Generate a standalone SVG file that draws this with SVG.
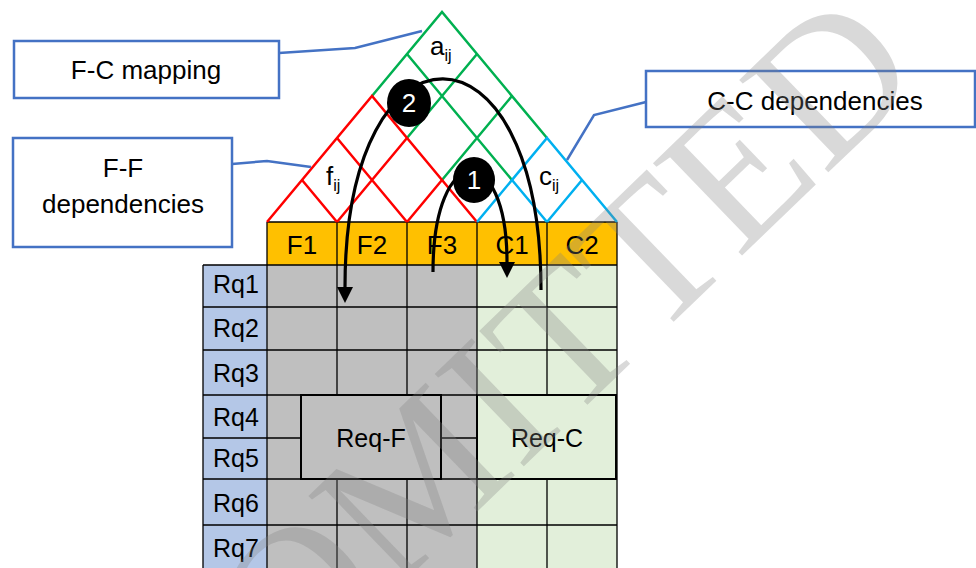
<svg xmlns="http://www.w3.org/2000/svg" width="976" height="568" viewBox="0 0 976 568">
<defs>
<style>
.t{font-family:"Liberation Sans",Arial,sans-serif;fill:#000}
.lbl{fill:#fff;stroke:#4472C4;stroke-width:2.5}
.call{fill:none;stroke:#4472C4;stroke-width:2.5}
.r{fill:none;stroke:#FF0000;stroke-width:2.5}
.g{fill:none;stroke:#00B050;stroke-width:2.5}
.b{fill:none;stroke:#00B0F0;stroke-width:2.5}
.grid{stroke:#000;stroke-width:1.3;fill:none}
.arr{fill:none;stroke:#000;stroke-width:3.2}
.num{font-family:"Liberation Sans",Arial,sans-serif;font-size:26px;fill:#fff;text-anchor:middle}
</style>
<marker id="ah" markerUnits="userSpaceOnUse" markerWidth="18" markerHeight="18" refX="0" refY="8" orient="auto" viewBox="0 0 18 16">
<path d="M0,0 L16,8 L0,16 z" fill="#000"/>
</marker>
</defs>
<rect width="976" height="568" fill="#fff"/>

<g id="matrix">
<rect x="267" y="222" width="350" height="43" fill="#FFC000"/>
<rect x="203" y="265" width="64" height="303" fill="#B4C7E7"/>
<rect x="267" y="265" width="210" height="303" fill="#BFBFBF"/>
<rect x="477" y="265" width="140" height="303" fill="#E2EFDA"/>
<g class="grid">
<path d="M267,222 H617 M203,265 H617 M203,307 H617 M203,350 H617 M203,395 H617 M203,438 H617 M203,479 H617 M203,525 H617"/>
<path d="M203,265 V568 M267,222 V568 M337,222 V568 M407,222 V568 M477,222 V568 M547,222 V568 M617,222 V568"/>
</g>
<g class="t" font-size="26" text-anchor="middle">
<text x="302" y="254">F1</text>
<text x="372" y="254">F2</text>
<text x="442" y="254">F3</text>
<text x="512" y="254">C1</text>
<text x="582" y="254">C2</text>
</g>
<g class="t" font-size="25" text-anchor="middle">
<text x="236" y="293">Rq1</text>
<text x="236" y="337">Rq2</text>
<text x="236" y="382">Rq3</text>
<text x="236" y="426">Rq4</text>
<text x="236" y="467">Rq5</text>
<text x="236" y="512">Rq6</text>
<text x="236" y="557">Rq7</text>
</g>
</g>

<g id="req-f">
<rect x="301" y="395" width="140" height="84" fill="#BFBFBF" stroke="#000" stroke-width="2"/>
<text class="t" x="371" y="447" font-size="25" text-anchor="middle">Req-F</text>
</g>
<g id="req-c">
<rect x="477" y="395" width="139" height="84" fill="#E2EFDA" stroke="#000" stroke-width="2"/>
<text class="t" x="547" y="447" font-size="25" text-anchor="middle">Req-C</text>
</g>

<g id="fc-region">
<polyline class="g" points="372,96 442,12 547,138"/>
<path class="g" d="M407,138 L477,54 M442,180 L512,96 M407,54 L512,180"/>
<text class="t" x="430" y="55" font-size="26">a<tspan font-size="16" dy="6">ij</tspan></text>
</g>
<g id="ff-region">
<polyline class="r" points="267,222 372,96 477,222"/>
<path class="r" d="M337,222 L302,180 M407,222 L337,138 M337,222 L407,138 M407,222 L442,180"/>
<text class="t" x="326" y="185" font-size="26">f<tspan font-size="16" dy="6">ij</tspan></text>
</g>
<g id="cc-region">
<polyline class="b" points="477,222 547,138 617,222"/>
<path class="b" d="M547,222 L512,180 M547,222 L582,180"/>
<text class="t" x="539" y="185" font-size="26">c<tspan font-size="16" dy="6">ij</tspan></text>
</g>

<g id="label-fc">
<rect class="lbl" x="14" y="41" width="265" height="57"/>
<text class="t" x="146" y="79" font-size="26" text-anchor="middle">F-C mapping</text>
</g>
<g id="label-ff">
<rect class="lbl" x="13" y="138" width="219" height="109"/>
<text class="t" x="123" y="177" font-size="26" text-anchor="middle">F-F</text>
<text class="t" x="123" y="213" font-size="26" text-anchor="middle">dependencies</text>
</g>
<g id="label-cc">
<rect class="lbl" x="646" y="71" width="329" height="56"/>
<text class="t" x="815" y="110" font-size="26" text-anchor="middle">C-C dependencies</text>
</g>

<g id="connectors">
<polyline class="call" points="279,53 355,48 422,31"/>
<polyline class="call" points="232,164 267,161 311,167"/>
<polyline class="call" points="646,102 594,115 567,160"/>
<path class="arr" d="M433,272 C433,140 507,140 507,262" marker-end="url(#ah)"/>
<path class="arr" d="M541,290 C541,9 345,9 345,287" marker-end="url(#ah)"/>
</g>

<g id="step-1">
<ellipse cx="474" cy="180" rx="21" ry="23" fill="#000"/>
<text class="num" x="474" y="189">1</text>
</g>
<g id="step-2">
<ellipse cx="409" cy="103" rx="22" ry="24" fill="#000"/>
<text class="num" x="409" y="112">2</text>
</g>

<text transform="translate(926,78) rotate(-44)" x="0" y="0" text-anchor="end" font-family="Liberation Serif,serif" font-size="196" fill="#808080" fill-opacity="0.3">OMITTED</text>
</svg>
